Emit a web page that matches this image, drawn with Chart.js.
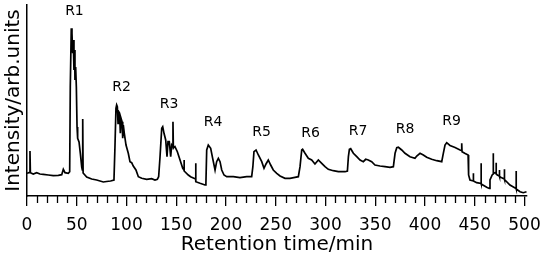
<!DOCTYPE html>
<html>
<head>
<meta charset="utf-8">
<script src="https://cdn.jsdelivr.net/npm/chart.js@4.4.1/dist/chart.umd.min.js"></script>
<style>
  html, body { margin: 0; padding: 0; background: #ffffff; }
  #wrap { width: 542px; height: 258px; }
</style>
</head>
<body>
<div id="wrap"><canvas id="c" width="542" height="258"></canvas></div>
<script>
// Retention time (min) of trace points
const retentionTime = [
  0, 2, 3, 3, 3.4, 6.3, 9.7, 13, 16.4, 21.4, 26.4, 31.5, 34.9, 36.5, 38.2, 41.5, 42.9,
  43.5, 44.5, 45.2, 45.9, 46.5, 47.2, 47.9, 48.2, 48.9, 49.6, 50.3, 50.9, 52.3, 53.6, 55, 55.6, 56, 56.4, 60, 65, 70, 76.7,
  80, 84, 87.4, 88.4, 89.4, 90.1, 90.8, 91.5, 92.2, 93.1, 93.8, 94.5, 95.5, 96.2, 96.8, 97.8, 99.5, 101.8, 103.5, 105.2,
  106.8, 109.5, 111.9, 115.3, 120.3, 125.3, 128.6, 131, 132.3,
  133.7, 135.4, 136.4, 137.7, 139.4, 140.7, 141.7, 143, 144.4, 145.4, 146.7, 146.7, 147.1, 148.7, 151.1, 153.8, 156.5,
  157.8, 157.8, 158.1, 162.1, 164.4, 169.5, 169.5, 169.8, 173.9, 178.9, 179.8,
  180.6, 182.2, 184.6, 186.6, 189, 190.6, 192.3, 194, 195.7, 198, 200.7, 207.4, 214, 220.8, 225.8,
  227, 228.1, 230.2, 232.5, 235.9, 238.2, 240.2, 242.5, 244.9, 247.5, 251, 254.3, 259.3, 264.3, 269.3, 272.7,
  274.4, 276.1, 277, 279.4, 282.7, 286.1, 289.4, 292.8, 296.2, 299.5, 302.8, 307.8, 312.9, 319.6, 322,
  323, 324, 325.3, 328, 331.4, 334.7, 338, 340.4, 343, 346.4, 349.7, 354.8, 359.8, 364.8, 368.2,
  369.9, 371.6, 373.2, 376.6, 379.9, 384.9, 389.9, 391.7, 395, 398.3, 401.7, 406.7, 411.8, 416.8,
  418.4, 420.1, 421.8, 425.1, 430.2, 435.2, 436.9, 436.9, 437.2, 439.9, 443.3, 443.8, 445.2,
  448.5, 448.5, 448.8, 451.9, 456.3, 456.3, 456.6, 462, 464.6, 465.3, 467.5, 468.5, 468.5, 468.8, 470.4,
  471.4, 471.4, 471.7, 472.7, 474.7, 474.7, 475, 476.1, 479.7, 479.7, 480, 485.4, 491.5, 491.5, 491.8,
  495.5, 498.8, 502
];
// Intensity (arb. units) of trace points
const intensity = [
  21.7, 22.3, 22.3, 44, 22.3, 21, 22.3, 21, 20.7, 20, 19.3, 19.7, 20.3, 25.7, 22.3, 21.7, 23.3,
  108, 166.7, 161.7, 141.7, 155, 125, 145, 115, 128, 108, 68, 56.7, 53, 41.7, 28, 25, 76, 22, 18, 16, 15, 13,
  13.5, 14, 15, 48.3, 86.7, 90, 88.3, 71.7, 83.3, 81.7, 61.7, 76.7, 73.3, 56.7, 70, 61.7, 50, 41.7, 33.3, 32.3,
  29, 25, 18.3, 16.7, 15.7, 16.3, 15, 15.7, 18.3,
  38.3, 66.7, 68.3, 61.7, 55, 38.3, 53.3, 53.3, 38.3, 50, 48, 73.3, 47, 48.3, 43.3, 35, 26.7,
  25, 35, 24, 20, 18.3, 16, 31.7, 13.3, 11.7, 10, 11.7,
  45, 50, 46.7, 36.7, 25, 33.3, 36.7, 33.3, 25, 20, 18.3, 18.3, 17.3, 18.3, 18.3,
  28.3, 43.3, 45, 40, 33.3, 26.7, 31, 35, 30, 25, 21.7, 19, 16.7, 16.7, 17.7, 18.3,
  28.3, 45, 45.7, 41.7, 36.7, 35, 31, 35, 31.7, 28.3, 25.7, 24.3, 23.3, 23.3, 24,
  38.3, 45.7, 46.3, 41.7, 38.3, 35, 33.3, 35.7, 35, 33.3, 30, 29, 28.3, 27.7, 28.3,
  41.7, 47.3, 47.7, 45, 41.7, 38.3, 36.7, 39, 41.7, 40, 37.7, 35.7, 34.3, 33.3,
  41.7, 50, 52.3, 49.5, 47.5, 45, 44.5, 51.7, 43.3, 41.7, 40, 20, 15,
  14, 21.7, 14, 12.3, 11.5, 31.7, 11, 7.7, 6.5, 15, 20, 21, 41.7, 21.5, 22.3,
  22, 32.3, 21, 20, 19, 25, 18.5, 17.7, 16, 25.7, 15.5, 10, 6.5, 24, 6,
  3.3, 2.3, 3.3
];
// Peak region labels and their anchor positions (retention time, intensity)
const peakLabels = ['R1', 'R2', 'R3', 'R4', 'R5', 'R6', 'R7', 'R8', 'R9'];
const peakLabelTime = [47.7, 95, 142.7, 186.9, 235.7, 284.9, 332.7, 379.9, 426.6];
const peakLabelIntensity = [184, 108, 91, 73, 62.5, 61.5, 64, 66, 74];
// Axis ticks
const majorTicks = [0, 50, 100, 150, 200, 250, 300, 350, 400, 450, 500];
const minorTickStep = 10;

const points = retentionTime.map((t, i) => ({ x: t, y: intensity[i] }));

const FONT = '"DejaVu Sans", Verdana, sans-serif';

const extrasPlugin = {
  id: 'extras',
  afterDraw(chart) {
    const ctx = chart.ctx;
    const xs = chart.scales.x, ys = chart.scales.y;
    const bottom = chart.chartArea.bottom;
    ctx.save();
    // minor ticks
    ctx.strokeStyle = '#000';
    ctx.lineWidth = 1.3;
    for (let t = 0; t <= 500; t += minorTickStep) {
      if (majorTicks.includes(t)) continue;
      const px = Math.round(xs.getPixelForValue(t)) + 0.5;
      ctx.beginPath();
      ctx.moveTo(px, bottom);
      ctx.lineTo(px, bottom + 7);
      ctx.stroke();
    }
    // peak labels
    ctx.fillStyle = '#000';
    ctx.font = '14px ' + FONT;
    ctx.textAlign = 'center';
    ctx.textBaseline = 'middle';
    peakLabels.forEach((lab, i) => {
      ctx.fillText(lab, xs.getPixelForValue(peakLabelTime[i]), ys.getPixelForValue(peakLabelIntensity[i]));
    });
    ctx.restore();
  }
};

new Chart(document.getElementById('c'), {
  type: 'line',
  data: {
    datasets: [{
      data: points,
      borderColor: '#000',
      borderWidth: 1.7,
      pointRadius: 0,
      tension: 0,
      fill: false
    }]
  },
  options: {
    responsive: false,
    animation: false,
    devicePixelRatio: 1,
    layout: { padding: { top: 5, right: 15, left: 0, bottom: 0 } },
    plugins: { legend: { display: false }, tooltip: { enabled: false } },
    scales: {
      x: {
        type: 'linear',
        min: 0,
        max: 502.5,
        afterBuildTicks(scale) { scale.ticks = majorTicks.map(v => ({ value: v })); },
        afterFit(scale) { scale.height = 62; scale.paddingLeft = 0; scale.paddingRight = 0; },
        ticks: {
          autoSkip: false,
          maxRotation: 0,
          color: '#000',
          padding: 9,
          font: { family: FONT, size: 17 }
        },
        grid: {
          display: true,
          drawOnChartArea: false,
          drawTicks: true,
          tickLength: 10,
          color: '#000',
          lineWidth: 1.3
        },
        border: { display: true, color: '#000', width: 1.5 },
        title: {
          display: true,
          text: 'Retention time/min',
          color: '#000',
          font: { family: FONT, size: 20 },
          padding: { top: 0, bottom: 1 }
        }
      },
      y: {
        type: 'linear',
        min: -1,
        max: 190,
        afterFit(scale) { scale.width = 27; scale.paddingTop = 0; scale.paddingBottom = 0; },
        ticks: { display: false },
        grid: { display: false, drawTicks: false },
        border: { display: true, color: '#000', width: 1.5 },
        title: {
          display: true,
          text: 'Intensity/arb.units',
          color: '#000',
          font: { family: FONT, size: 20 },
          padding: { top: 2, bottom: 0 }
        }
      }
    }
  },
  plugins: [extrasPlugin]
});
</script>
</body>
</html>
